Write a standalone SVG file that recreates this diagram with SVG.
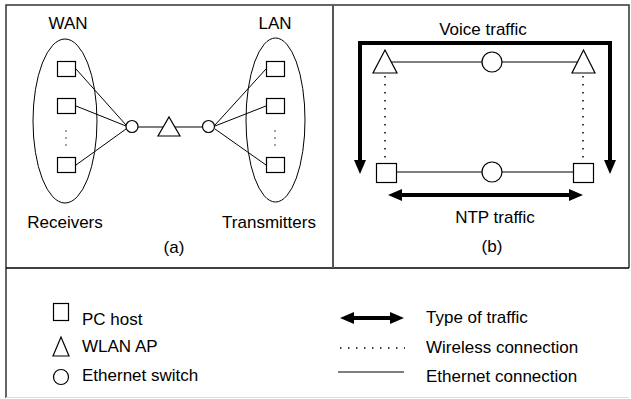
<svg xmlns="http://www.w3.org/2000/svg" width="631" height="399" viewBox="0 0 631 399">
<style>
text{font-family:"Liberation Sans",Arial,sans-serif;font-size:17px;fill:#000}
.s{fill:#fff;stroke:#000;stroke-width:1.2}
.ln{stroke:#000;stroke-width:1;fill:none}
.dot{stroke:#000;stroke-width:1.5;stroke-dasharray:1.5 6.5;fill:none}
.thick{stroke:#000;stroke-width:4;fill:none}
</style>
<defs>
<marker id="ah" viewBox="0 0 14 12" refX="2" refY="6" markerWidth="14" markerHeight="12" markerUnits="userSpaceOnUse" orient="auto-start-reverse">
<path d="M0,0 L14,6 L0,12 z" fill="#000"/>
</marker>
</defs>
<rect x="0" y="0" width="631" height="399" fill="#fff"/>
<g id="frame" fill="none">
<path d="M6,398 V5 H629 V268" stroke="#333" stroke-width="1.5"/>
<line x1="6" y1="268" x2="629" y2="268" stroke="#000" stroke-width="1.5"/>
<line x1="333" y1="5" x2="333" y2="268" stroke="#555" stroke-width="2"/>
<line x1="6" y1="397.5" x2="629" y2="397.5" stroke="#ddd" stroke-width="1"/>
</g>
<g id="connectors">
<line class="ln" x1="76" y1="69" x2="126" y2="125"/>
<line class="ln" x1="76" y1="106" x2="126" y2="126"/>
<line class="ln" x1="76" y1="165" x2="126" y2="129"/>
<line class="ln" x1="215" y1="125" x2="266" y2="69"/>
<line class="ln" x1="215" y1="126" x2="266" y2="106"/>
<line class="ln" x1="215" y1="129" x2="266" y2="165"/>
<line class="ln" x1="138" y1="127" x2="164" y2="127"/>
<line class="ln" x1="175" y1="127" x2="202" y2="127"/>
<line class="ln" x1="385" y1="62" x2="583" y2="62"/>
<line class="ln" x1="397" y1="172" x2="573" y2="172"/>
<line class="dot" x1="385" y1="76" x2="385" y2="160"/>
<line class="dot" x1="583" y1="76" x2="583" y2="163"/>
<path class="thick" d="M360,162 V43 H610 V162" marker-start="url(#ah)" marker-end="url(#ah)"/>
<line class="thick" x1="400" y1="195" x2="571" y2="195" marker-start="url(#ah)" marker-end="url(#ah)"/>
</g>
<g id="wan-group">
<ellipse class="ln" cx="65" cy="121" rx="32" ry="82"/>
<text x="68" y="29" text-anchor="middle">WAN</text>
<text x="65" y="228" text-anchor="middle">Receivers</text>
</g>
<g id="lan-group">
<ellipse class="ln" cx="275.5" cy="120" rx="29.5" ry="82"/>
<text x="275" y="29" text-anchor="middle">LAN</text>
<text x="269" y="228" text-anchor="middle">Transmitters</text>
</g>
<g id="wan-hosts">
<rect class="s" x="57.5" y="61.5" width="18" height="15"/>
<rect class="s" x="57.5" y="98.5" width="18" height="15"/>
<rect class="s" x="57.5" y="157.5" width="18" height="15"/>
<g fill="#000"><circle cx="66" cy="131" r="0.7"/><circle cx="66" cy="138" r="0.7"/><circle cx="66" cy="145" r="0.7"/></g>
</g>
<g id="lan-hosts">
<rect class="s" x="266.5" y="61.5" width="18" height="15"/>
<rect class="s" x="266.5" y="98.5" width="18" height="15"/>
<rect class="s" x="266.5" y="157.5" width="18" height="15"/>
<g fill="#000"><circle cx="275" cy="131" r="0.7"/><circle cx="275" cy="138" r="0.7"/><circle cx="275" cy="145" r="0.7"/></g>
</g>
<g id="a-switch-left"><circle class="s" cx="132" cy="126.5" r="6"/></g>
<g id="a-ap"><polygon class="s" points="158,136 180,136 169,117"/></g>
<g id="a-switch-right"><circle class="s" cx="208.5" cy="126.5" r="6"/></g>
<text id="label-a" x="174" y="253" text-anchor="middle">(a)</text>
<g id="b-ap-left"><polygon class="s" points="373,73 397,73 385,50"/></g>
<g id="b-ap-right"><polygon class="s" points="572,73 595,73 583.5,50"/></g>
<g id="b-switch-top"><circle class="s" cx="492" cy="62" r="10"/></g>
<g id="b-switch-bottom"><circle class="s" cx="492" cy="172" r="10"/></g>
<g id="b-host-left"><rect class="s" x="376.5" y="163.5" width="20" height="19"/></g>
<g id="b-host-right"><rect class="s" x="573.5" y="163.5" width="20" height="19"/></g>
<text x="483" y="35" text-anchor="middle">Voice traffic</text>
<text x="495" y="223" text-anchor="middle">NTP traffic</text>
<text id="label-b" x="492" y="252" text-anchor="middle">(b)</text>
<g id="legend">
<rect class="s" x="53.5" y="303.5" width="15" height="17"/>
<text x="82" y="325">PC host</text>
<polygon class="s" points="53,356 69,356 61,337"/>
<text x="82" y="352">WLAN AP</text>
<circle class="s" cx="61" cy="377" r="7.5"/>
<text x="82" y="381">Ethernet switch</text>
<line class="thick" x1="352" y1="318" x2="392" y2="318" marker-start="url(#ah)" marker-end="url(#ah)"/>
<text x="426" y="323">Type of traffic</text>
<line class="dot" x1="340" y1="348" x2="405" y2="348" stroke-width="1" stroke-dasharray="1 6"/>
<text x="426" y="353">Wireless connection</text>
<line class="ln" x1="338" y1="372" x2="404" y2="372"/>
<text x="426" y="382">Ethernet connection</text>
</g>
</svg>
